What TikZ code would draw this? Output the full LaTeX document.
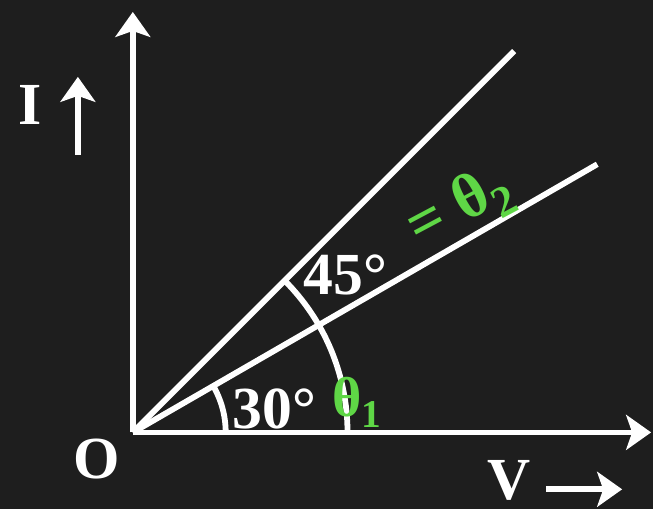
\documentclass[tikz,border=0pt]{standalone}
\usepackage{fontspec}
\setmainfont{Liberation Serif}
\usetikzlibrary{arrows.meta}
\definecolor{board}{RGB}{30,30,30}
\definecolor{pen}{RGB}{95,215,70}
\begin{document}
\begin{tikzpicture}[line width=3.3pt, white,
  >={Stealth[length=0.5cm,width=0.7cm,inset=0.12cm]}]
          \fill[board] (-2.66,-1.54) rectangle (10.42,8.66);

          \coordinate (O) at (0,0);
          \coordinate (Itop) at (0,8.42);
          \coordinate (Vend) at (10.38,0);
          \coordinate (L30) at (30:10.74);
          \coordinate (L45) at (45:10.8);

          \draw[->] (O) -- (Itop);
          \draw[->] (O) -- (Vend);
          \draw (O) -- (L30);
          \draw (O) -- (L45);

          \draw (1.86,0) arc[start angle=0, end angle=30, radius=1.86];
          \draw (4.3,0) arc[start angle=0, end angle=45, radius=4.3];

          \node[font=\bfseries\fontsize{34}{40}\selectfont] (origin) at (-0.72,-0.54) {O};
          \node[font=\bfseries\fontsize{34}{40}\selectfont] (a30) at (2.84,0.46) {30\textdegree};
          \node[font=\bfseries\fontsize{34}{40}\selectfont] (a45) at (4.26,3.16) {45\textdegree};

          \node[font=\bfseries\fontsize{34}{40}\selectfont] (I) at (-2.06,6.56) {I};
          \draw[->] (-1.1,5.56) -- (-1.1,7.12);

          \node[font=\bfseries\fontsize{34}{40}\selectfont] (V) at (7.54,-0.96) {V};
          \draw[->] (8.28,-1.14) -- (9.8,-1.14);

          % green pen notes
          \node[pen, font=\bfseries\fontsize{36}{40}\selectfont, rotate=28] (t2) at (6.56,4.48) {= θ\textsubscript{2}};
          \node[pen, font=\bfseries\fontsize{32}{36}\selectfont] (t1) at (4.5,0.6) {θ\textsubscript{1}};

      \end{tikzpicture}
\end{document}
